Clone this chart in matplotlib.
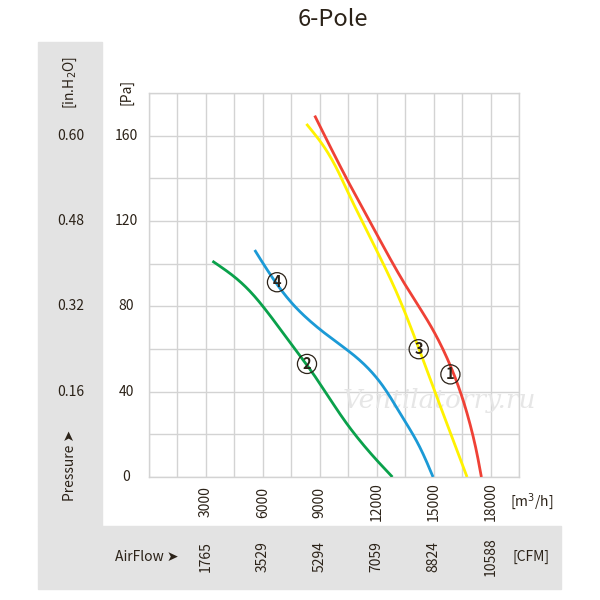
import matplotlib
matplotlib.use("Agg")
import matplotlib.pyplot as plt
from matplotlib.patches import Rectangle
import numpy as np

plt.rcParams['font.family'] = ['Noto Sans CJK SC', 'DejaVu Sans']

# ---- data ----
curve1_x = [8733, 10404, 11985, 13649, 14793, 15672, 16375, 16902, 17253, 17517]
curve1_y = [169.4, 140.0, 114.2, 87.6, 72.0, 56.4, 40.8, 25.2, 12.7, 0]
curve3_x = [8294, 9170, 10488, 11985, 13002, 13915, 14970, 16762]
curve3_y = [165.5, 156.4, 133.0, 106.4, 87.6, 67.4, 42.3, 0]
curve4_x = [5571, 6715, 7769, 9350, 10931, 12157, 13211, 14089, 14970]
curve4_y = [106.4, 90.8, 79.1, 66.6, 56.4, 44.7, 29.9, 17.3, 0]
curve2_x = [3341, 4427, 6008, 7589, 8643, 10404, 11985, 12829]
curve2_y = [101.2, 94.7, 79.8, 61.1, 48.6, 25.2, 8.0, 0]

labels = ['1', '2', '3', '4']
label_x = [15885, 8327, 14214, 6746]
label_y = [48.1, 53.0, 59.9, 91.3]

pa_ticks = [0, 40, 80, 120, 160]
inh2o_labels = ['', '0.16', '0.32', '0.48', '0.60']
m3h_ticks = [3000, 6000, 9000, 12000, 15000, 18000]
cfm_labels = ['1765', '3529', '5294', '7059', '8824', '10588']

colors = {'1': '#ef4136', '3': '#fff200', '4': '#1b9ad6', '2': '#0aa14b'}
txt = '#2b2218'
panel = '#e3e3e3'


def smooth(xs, ys, lam=150.0, n=160):
    """Light penalised (Whittaker) smoothing of the read points, x as a function of pressure."""
    xs = np.asarray(xs, float)
    ys = np.asarray(ys, float)
    g = np.linspace(ys.min(), ys.max(), n)
    A = np.zeros((len(ys), n))
    for k, y in enumerate(ys):
        j = min(int(np.searchsorted(g, y, side='right')) - 1, n - 2)
        w = (y - g[j]) / (g[j + 1] - g[j])
        A[k, j] = 1 - w
        A[k, j + 1] = w
    wts = np.ones(len(ys))
    wts[np.argmin(ys)] = 20
    wts[np.argmax(ys)] = 20
    Wm = np.diag(wts)
    D = np.diff(np.eye(n), 2, axis=0)
    z = np.linalg.solve(A.T @ Wm @ A + lam * D.T @ D, A.T @ Wm @ xs)
    return z, g


W = H = 600.0
fig = plt.figure(figsize=(6, 6), dpi=100)

def fx(px):
    return px / W

def fy(py):
    return 1 - py / H

# grey panels
fig.patches.append(Rectangle((fx(38), fy(526)), (102 - 38) / W, (526 - 42) / H,
                             transform=fig.transFigure, color=panel, zorder=0))
fig.patches.append(Rectangle((fx(38), fy(589)), (561 - 38) / W, (589 - 526) / H,
                             transform=fig.transFigure, color=panel, zorder=0))

ax = fig.add_axes([fx(149), fy(477), (519 - 149) / W, (477 - 93) / H])
ax.set_xlim(0, 19500)
ax.set_ylim(0, 180)
ax.set_xticks(np.arange(0, 19501, 1500))
ax.set_yticks(np.arange(0, 181, 20))
ax.grid(True, color='#d3d3d3', lw=1.0)
ax.tick_params(length=0, labelleft=False, labelbottom=False)
for s in ax.spines.values():
    s.set_color('#d3d3d3')
    s.set_linewidth(1.0)
ax.set_axisbelow(True)

# watermark
ax.text(15300, 36, 'Ventilatorry.ru', fontsize=19, style='italic', color='#e6e6e6',
        ha='center', va='center', zorder=2, family='DejaVu Serif')

for key, xs, ys in [('2', curve2_x, curve2_y), ('4', curve4_x, curve4_y),
                    ('3', curve3_x, curve3_y), ('1', curve1_x, curve1_y)]:
    sx, sy = smooth(xs, ys)
    ax.plot(sx, sy, color=colors[key], lw=2.0, solid_capstyle='butt', zorder=3)

for lab, x, y in zip(labels, label_x, label_y):
    ax.scatter([x], [y], s=190, facecolors='none', edgecolors=txt, linewidths=0.9, zorder=4)
    ax.text(x, y, lab, ha='center', va='center', fontsize=10.5, color=txt,
            fontweight='bold', zorder=5)

# y tick labels
for v, lab in zip(pa_ticks, inh2o_labels):
    y_disp = ax.transData.transform((0, v))[1]
    yf = fig.transFigure.inverted().transform((0, y_disp))[1]
    fig.text(fx(126), yf, str(v), ha='center', va='center', fontsize=10, color=txt)
    if lab:
        fig.text(fx(70.5), yf, lab, ha='center', va='center', fontsize=10, color=txt)

# x tick labels
for v, lab in zip(m3h_ticks, cfm_labels):
    x_disp = ax.transData.transform((v, 0))[0]
    xf = fig.transFigure.inverted().transform((x_disp, 0))[0]
    fig.text(xf, fy(502), str(v), ha='center', va='center', rotation=90, fontsize=10, color=txt)
    fig.text(xf, fy(557), lab, ha='center', va='center', rotation=90, fontsize=10, color=txt)

fig.text(fx(333), fy(20), '6-Pole', ha='center', va='center', fontsize=17, color=txt)
fig.text(fx(532), fy(502), '[m$^3$/h]', ha='center', va='center', fontsize=10, color=txt)
fig.text(fx(531), fy(557), '[CFM]', ha='center', va='center', fontsize=10, color=txt)
fig.text(fx(147), fy(557), 'AirFlow ➤', ha='center', va='center', fontsize=10, color=txt,
         family=['Noto Sans CJK SC', 'DejaVu Sans'])
fig.text(fx(70), fy(465), 'Pressure ➤', ha='center', va='center', fontsize=10, color=txt,
         rotation=90, family=['Noto Sans CJK SC', 'DejaVu Sans'])
fig.text(fx(70.5), fy(82), '[in.H$_2$O]', ha='center', va='center', fontsize=10, color=txt,
         rotation=90)
fig.text(fx(126), fy(92), '[Pa]', ha='center', va='center', fontsize=10, color=txt,
         rotation=90)

fig.savefig('out.png', dpi=100, facecolor='white')
